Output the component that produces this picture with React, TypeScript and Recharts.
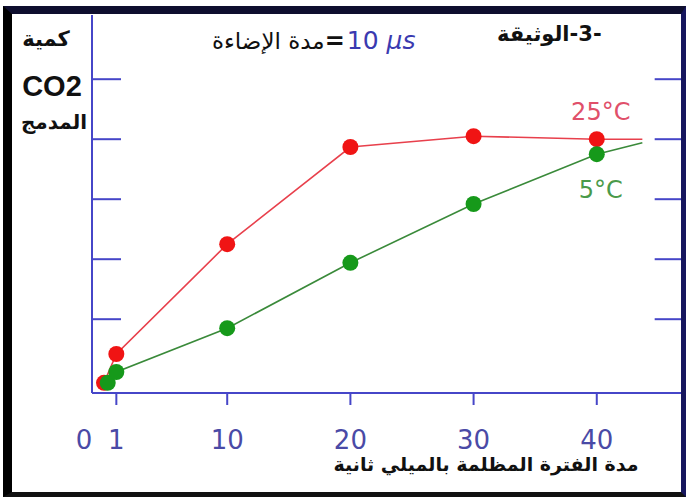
import { LineChart, Line, XAxis, YAxis, LabelList, ReferenceLine } from "recharts";

// مدة الفترة المظلمة (ms) / كمية CO2 المدمج (arbitrary units)
const TIME_25C = [0, 1, 10, 20, 30, 40, 43.7];
const CO2_25C = [0.17, 0.65, 2.48, 4.1, 4.28, 4.23, 4.23];
const TIME_5C = [0.3, 1, 10, 20, 30, 40, 43.7];
const CO2_5C = [0.17, 0.35, 1.08, 2.17, 3.15, 3.98, 4.17];
const X_TICKS = [0, 1, 10, 20, 30, 40];
const Y_TICKS = [1.23, 2.23, 3.23, 4.23, 5.23];
const SERIES_NAMES = ["25°C", "5°C"];
const LABEL_AT = 40;

const X_MIN = -0.976;
const X_MAX = 47;
const AXIS_BLUE = "#4646c8";
const TICK_TEXT = "#4a4aa6";
const FONT = "'DejaVu Sans', sans-serif";

const build = (xs: number[], ys: number[], name: string) =>
    xs.map((x, i) => ({
        x,
        y: ys[i],
        tail: i === xs.length - 1,
        label: x === LABEL_AT ? name : "",
    }));

const data25 = build(TIME_25C, CO2_25C, SERIES_NAMES[0]);
const data5 = build(TIME_5C, CO2_5C, SERIES_NAMES[1]);

const makeDot = (fill: string) => (props: any) => {
    const { cx, cy, index, payload } = props;
    if (payload.tail) return <g key={`d-${index}`} />;
    return <circle key={`d-${index}`} cx={cx} cy={cy} r={8} fill={fill} stroke="none" />;
};

const XTick = (props: any) => {
    const { x, y, payload } = props;
    const v = payload.value;
    return (
        <g>
            {v !== 0 && <line x1={x} x2={x} y1={y} y2={y + 12} stroke={AXIS_BLUE} strokeWidth={2} />}
            <text x={v === 0 ? x - 20 : x} y={y + 56} textAnchor="middle" fill={TICK_TEXT} fontSize={26} fontFamily={FONT}>
                {v}
            </text>
        </g>
    );
};

const NoTick = () => <g />;

const makeLabel = (color: string, dy: number) => (props: any) => {
    const { x, y, value, index } = props;
    if (!value) return null;
    return (
        <text key={`l-${index}`} x={x + 4} y={y + dy} textAnchor="middle" fill={color} fontSize={24} fontFamily={FONT}>
            {value}
        </text>
    );
};

export default function App() {
    return (
        <div style={{ position: "fixed", left: 0, top: 0, width: 686, height: 497, background: "#fff" }}>
            <LineChart width={686} height={497} margin={{ top: 15, right: 3, bottom: 44, left: 92 }}>
                <XAxis
                    type="number"
                    dataKey="x"
                    domain={[X_MIN, X_MAX]}
                    allowDataOverflow
                    ticks={X_TICKS}
                    interval={0}
                    height={60}
                    axisLine={{ stroke: AXIS_BLUE, strokeWidth: 2 }}
                    tickLine={false}
                    tickSize={0}
                    tickMargin={0}
                    tick={XTick}
                />
                <YAxis
                    yAxisId="l"
                    type="number"
                    domain={[0, 6.3]}
                    ticks={Y_TICKS}
                    width={1}
                    mirror
                    tickSize={29}
                    axisLine={{ stroke: AXIS_BLUE, strokeWidth: 2 }}
                    tickLine={{ stroke: AXIS_BLUE, strokeWidth: 2 }}
                    tick={NoTick}
                />
                {/* graduations du côté droit */}
                {Y_TICKS.map((t) => (
                    <ReferenceLine
                        key={`rt-${t}`}
                        yAxisId="l"
                        segment={[
                            { x: X_MAX - 2.3, y: t },
                            { x: X_MAX, y: t },
                        ]}
                        stroke={AXIS_BLUE}
                        strokeWidth={2}
                    />
                ))}
                <Line
                    yAxisId="l"
                    data={data25}
                    dataKey="y"
                    type="linear"
                    stroke="#e8404c"
                    strokeWidth={1.6}
                    dot={makeDot("#f01414")}
                    activeDot={false}
                    isAnimationActive={false}
                >
                    <LabelList dataKey="label" content={makeLabel("#e0506a", -19)} />
                </Line>
                <Line
                    yAxisId="l"
                    data={data5}
                    dataKey="y"
                    type="linear"
                    stroke="#3a8a3a"
                    strokeWidth={1.6}
                    dot={makeDot("#16991a")}
                    activeDot={false}
                    isAnimationActive={false}
                >
                    <LabelList dataKey="label" content={makeLabel("#4a9a4a", 44)} />
                </Line>
            </LineChart>

            {/* titre de l'axe Y */}
            <div style={{ position: "absolute", left: 6, top: 27, width: 80, textAlign: "center", fontFamily: FONT, fontWeight: "bold", fontSize: 21, color: "#111" }}>
                كمية
            </div>
            <div style={{ position: "absolute", left: 12, top: 70, width: 80, textAlign: "center", fontFamily: "'Liberation Sans', Arial, sans-serif", fontWeight: "bold", fontSize: 29, color: "#111" }}>
                CO2
            </div>
            <div style={{ position: "absolute", left: 14, top: 110, width: 80, textAlign: "center", fontFamily: FONT, fontWeight: "bold", fontSize: 20, color: "#111" }}>
                المدمج
            </div>

            {/* titre */}
            <div style={{ position: "absolute", left: 212, top: 26, display: "flex", alignItems: "baseline", fontFamily: FONT, whiteSpace: "nowrap" }}>
                <span style={{ fontSize: 23, color: "#111" }}>مدة الإضاءة</span>
                <span style={{ fontSize: 24, color: "#111", fontWeight: "bold" }}>=</span>
                <span style={{ fontSize: 25, color: "#3a3ab0", marginLeft: 2 }}>
                    10 <i>µs</i>
                </span>
            </div>
            <div style={{ position: "absolute", left: 497, top: 22, display: "flex", fontFamily: FONT, fontWeight: "bold", fontSize: 21, color: "#111", whiteSpace: "nowrap" }}>
                <span>الوثيقة</span>
                <span>-3-</span>
            </div>

            {/* titre de l'axe X */}
            <div style={{ position: "absolute", left: 330, top: 453, width: 312, textAlign: "center", fontFamily: FONT, fontWeight: "bold", fontSize: 19, color: "#111", whiteSpace: "nowrap" }}>
                مدة الفترة المظلمة بالميلي ثانية
            </div>

            {/* cadre */}
            <div
                style={{
                    position: "absolute",
                    left: 3,
                    top: 6,
                    width: 683,
                    height: 491,
                    boxSizing: "border-box",
                    borderLeft: "9px solid #000",
                    borderTop: "8px solid #0e0e2e",
                    borderRight: "5px solid #16165e",
                    borderBottom: "5px solid #111",
                    pointerEvents: "none",
                }}
            />
        </div>
    );
}
